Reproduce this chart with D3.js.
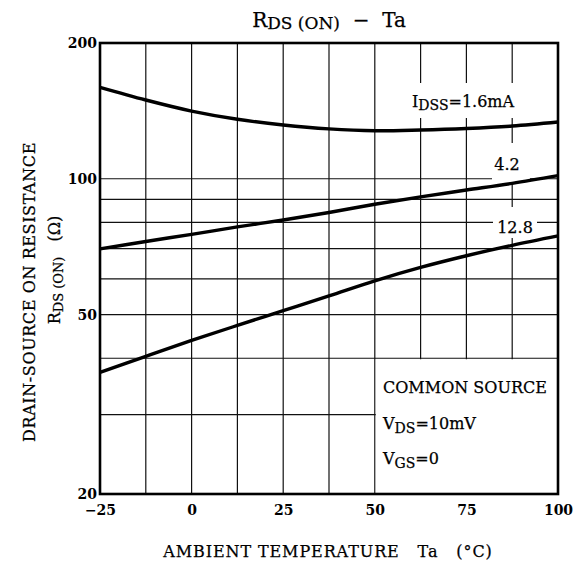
<!DOCTYPE html>
<html>
<head>
<meta charset="utf-8">
<script src="https://d3js.org/d3.v7.min.js"></script>
<style>
  body { margin: 0; background: #fff; }
  svg { display: block; background: #fff; }
  text { font-family: "DejaVu Serif", serif; fill: #000; stroke: #000; stroke-width: 0.25px; }
  .tick text { font-size: 14px; font-weight: bold; stroke: none; }
  .grid line { stroke: #111; stroke-width: 1.2; }
  .curve { fill: none; stroke: #000; stroke-width: 3.4; }
</style>
</head>
<body>
<div id="chart"></div>
<script>
// temperature points (degC)
var temps = [-25, -12.5, 0, 12.5, 25, 37.5, 50, 62.5, 75, 87.5, 100];
// RDS(on) in ohm for each IDSS
var rIdss16 = [159.5, 149.5, 141.3, 135.5, 131.6, 129, 127.8, 128.3, 129.3, 130.9, 133.6];
var rIdss42 = [69.9, 72.6, 75.3, 78.2, 81.0, 84.2, 87.8, 91.2, 94.4, 97.7, 101.6];
var rIdss128 = [37.2, 40.4, 43.8, 47.3, 51.0, 55.0, 59.4, 63.6, 67.5, 71.2, 74.7];

var xTicks = [-25, 0, 25, 50, 75, 100];
var yTicks = [20, 50, 100, 200];
var xGrid = [-12.5, 0, 12.5, 25, 37.5, 50, 62.5, 75, 87.5];
var yGrid = [30, 40, 50, 60, 70, 80, 90, 100];

var W = 574, H = 563;
var m = {top: 43, right: 16, bottom: 69, left: 100};

var svg = d3.select("#chart").append("svg")
    .attr("width", W).attr("height", H);

var x = d3.scaleLinear().domain([-25, 100]).range([m.left, W - m.right]);
var y = d3.scaleLog().domain([20, 200]).range([H - m.bottom, m.top]);

// grid
var grid = svg.append("g").attr("class", "grid");
grid.selectAll(".vg").data(xGrid).enter().append("line")
    .attr("x1", d => x(d)).attr("x2", d => x(d))
    .attr("y1", y(200)).attr("y2", y(20));
grid.selectAll(".hg").data(yGrid).enter().append("line")
    .attr("x1", x(-25)).attr("x2", x(100))
    .attr("y1", d => y(d)).attr("y2", d => y(d));

// white knockouts where the grid is cut for the labels and the note box
var knock = svg.append("g").attr("fill", "#fff");
knock.append("rect").attr("x", 408).attr("y", 83).attr("width", 118).attr("height", 35);
knock.append("rect").attr("x", 492).attr("y", 143).attr("width", 38).attr("height", 40);
knock.append("rect").attr("x", 493).attr("y", 207).attr("width", 44).attr("height", 31);
knock.append("rect")
    .attr("x", x(50) + 1).attr("y", y(40) + 1)
    .attr("width", x(100) - x(50) - 2).attr("height", y(20) - y(40) - 2);

// curves
var line = d3.line()
    .x(function(d) { return x(d[0]); })
    .y(function(d) { return y(d[1]); })
    .curve(d3.curveCatmullRom);

[rIdss16, rIdss42, rIdss128].forEach(function(s) {
    svg.append("path")
        .attr("class", "curve")
        .attr("d", line(temps.map(function(t, i) { return [t, s[i]]; })));
});

// frame
svg.append("rect")
    .attr("x", x(-25)).attr("y", y(200))
    .attr("width", x(100) - x(-25)).attr("height", y(20) - y(200))
    .attr("fill", "none").attr("stroke", "#000").attr("stroke-width", 2.6);

// axes (labels only)
var xAxis = svg.append("g")
    .attr("transform", "translate(0," + y(20) + ")")
    .call(d3.axisBottom(x).tickValues(xTicks).tickSize(0).tickPadding(11)
        .tickFormat(function(d) { return d < 0 ? "\u2212" + Math.abs(d) : d; }));
xAxis.select(".domain").remove();

var yAxis = svg.append("g")
    .attr("transform", "translate(" + x(-25) + ",0)")
    .call(d3.axisLeft(y).tickValues(yTicks).tickSize(0).tickPadding(3)
        .tickFormat(d3.format("d")));
yAxis.select(".domain").remove();

// title
var title = svg.append("text")
    .attr("x", 329).attr("y", 27)
    .attr("text-anchor", "middle")
    .style("font-size", "20px")
    .style("white-space", "pre");
title.append("tspan").text("R");
title.append("tspan").attr("dy", 2).style("font-size", "17px").text("DS (ON)");
title.append("tspan").attr("dy", -2).text("  \u2212  Ta");

// x axis title
svg.append("text")
    .attr("x", 328).attr("y", 557)
    .attr("text-anchor", "middle")
    .style("font-size", "16px")
    .style("letter-spacing", "0.9px")
    .style("white-space", "pre")
    .text("AMBIENT TEMPERATURE   Ta   (\u00B0C)");

// y axis title
var yt = svg.append("g");
yt.append("text")
    .attr("transform", "translate(35,292) rotate(-90)")
    .attr("text-anchor", "middle")
    .style("font-size", "16px")
    .style("letter-spacing", "0.6px")
    .text("DRAIN-SOURCE ON RESISTANCE");
var yt2 = yt.append("text")
    .attr("transform", "translate(60,270) rotate(-90)")
    .attr("text-anchor", "middle")
    .style("font-size", "16px")
    .style("white-space", "pre");
yt2.append("tspan").text("R");
yt2.append("tspan").attr("dy", 3).style("font-size", "13px").text("DS (ON)");
yt2.append("tspan").attr("dy", -3).text("   (\u03A9)");

// curve labels
var l1 = svg.append("text").attr("x", 412).attr("y", 107).style("font-size", "16px");
l1.append("tspan").text("I");
l1.append("tspan").attr("dy", 3).style("font-size", "14px").text("DSS");
l1.append("tspan").attr("dy", -3).text("=1.6mA");

svg.append("text").attr("x", 507).attr("y", 170).attr("text-anchor", "middle")
    .style("font-size", "16px").text("4.2");
svg.append("text").attr("x", 515).attr("y", 233).attr("text-anchor", "middle")
    .style("font-size", "16px").text("12.8");

// note box text
var nb = svg.append("g").style("font-size", "16px");
nb.append("text").attr("x", 383).attr("y", 393).text("COMMON SOURCE");
var v1 = nb.append("text").attr("x", 383).attr("y", 429);
v1.append("tspan").text("V");
v1.append("tspan").attr("dy", 4).style("font-size", "14px").text("DS");
v1.append("tspan").attr("dy", -4).text("=10mV");
var v2 = nb.append("text").attr("x", 383).attr("y", 464);
v2.append("tspan").text("V");
v2.append("tspan").attr("dy", 4).style("font-size", "14px").text("GS");
v2.append("tspan").attr("dy", -4).text("=0");
</script>
</body>
</html>
